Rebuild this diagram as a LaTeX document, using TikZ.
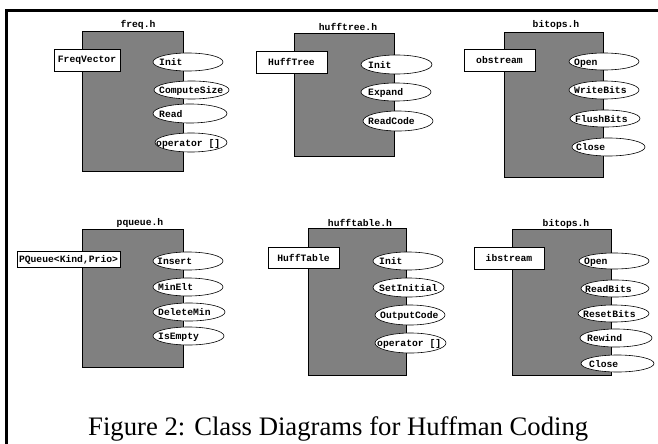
\documentclass[tikz,border=0pt]{standalone}
\usepackage{fontspec}
\setmainfont{Liberation Serif}
\newfontfamily\codefont{Liberation Mono}
\usetikzlibrary{shapes.geometric}
\definecolor{clsgray}{HTML}{808080}
\newcommand\mth[7]{%
  \node[meth, minimum width=#4pt, minimum height=#5pt] (#1) at (#2,#3) {};
  \node[mtext] (#1t) at (#6,#3) {#7};}
\begin{document}
\begin{tikzpicture}[x=1pt,y=-1pt,
  cls/.style={draw=black, fill=clsgray, line width=0.7pt, inner sep=0pt},
  cbox/.style={draw=black, fill=white, line width=0.7pt, inner sep=0pt,
    font=\codefont\bfseries\fontsize{9.7}{11}\selectfont},
  meth/.style={ellipse, draw=black, fill=white, line width=0.6pt, inner sep=0pt},
  mtext/.style={inner sep=0pt, anchor=west, text height=7pt, text depth=0pt,
    font=\codefont\bfseries\fontsize{9.7}{11}\selectfont},
  hdr/.style={inner sep=0pt, font=\codefont\bfseries\fontsize{9.7}{11}\selectfont},
  frame/.style={line width=3pt, draw=black}]
\useasboundingbox (0,0) rectangle (658,444);
% frame
\coordinate (fa) at (658,10.5);
\coordinate (fb) at (6.3,10.5);
\coordinate (fc) at (6.3,444);
\draw[frame] (fa) -- (fb) -- (fc);

% ---- freq.h
\node[cls, minimum width=101pt, minimum height=140pt] (r1) at (132.5,101) {};
\node[hdr] (h1) at (138,24.5) {freq.h};
\node[cbox, minimum width=66pt, minimum height=22pt] (b1) at (87,60) {FreqVector};
\mth{a1}{188}{62}{70}{18}{159}{Init}
\mth{a2}{191.5}{90}{75}{18}{159}{ComputeSize}
\mth{a3}{190}{113.5}{74}{19}{159}{Read}
\mth{a4}{191}{142.5}{72}{19}{156}{operator []}

% ---- hufftree.h
\node[cls, minimum width=100pt, minimum height=123pt] (r2) at (344,94.5) {};
\node[hdr] (h2) at (348,27) {hufftree.h};
\node[cbox, minimum width=71pt, minimum height=22pt] (b2) at (291.5,62) {HuffTree};
\mth{c1}{396.5}{64.5}{71}{19}{368}{Init}
\mth{c2}{396}{92}{70}{18}{368}{Expand}
\mth{c3}{398}{121}{70}{20}{368}{ReadCode}

% ---- bitops.h (out)
\node[cls, minimum width=99pt, minimum height=145pt] (r3) at (553.5,104.5) {};
\node[hdr] (h3) at (556,25) {bitops.h};
\node[cbox, minimum width=71pt, minimum height=22pt] (b3) at (499.5,60) {obstream};
\mth{d1}{604}{61.5}{70}{17}{574}{Open}
\mth{d2}{604}{90}{70}{18}{574}{WriteBits}
\mth{d3}{605}{118.5}{70}{17}{575}{FlushBits}
\mth{d4}{608.5}{147}{73}{18}{576}{Close}

% ---- pqueue.h
\node[cls, minimum width=101pt, minimum height=138pt] (r4) at (132.5,298) {};
\node[hdr] (h4) at (140,223) {pqueue.h};
\node[cbox, minimum width=103pt, minimum height=16pt] (b4) at (68.5,259.5) {PQueue<Kind,Prio>};
\mth{e1}{188}{261}{70}{18}{157}{Insert}
\mth{e2}{188}{287}{70}{18}{158}{MinElt}
\mth{e3}{189}{312}{72}{18}{158}{DeleteMin}
\mth{e4}{188.5}{336}{71}{18}{158}{IsEmpty}

% ---- hufftable.h
\node[cls, minimum width=98pt, minimum height=147pt] (r5) at (357,301.5) {};
\node[hdr] (h5) at (360,223) {hufftable.h};
\node[cbox, minimum width=71pt, minimum height=21pt] (b5) at (303.5,257.5) {HuffTable};
\mth{g1}{408}{261}{70}{18}{379}{Init}
\mth{g2}{408.5}{287.5}{71}{19}{379}{SetInitial}
\mth{g3}{410}{315}{70}{20}{380}{OutputCode}
\mth{g4}{410.5}{343}{71}{20}{377}{operator []}

% ---- bitops.h (in)
\node[cls, minimum width=99pt, minimum height=146pt] (r6) at (561.5,302) {};
\node[hdr] (h6) at (566,224) {bitops.h};
\node[cbox, minimum width=70pt, minimum height=22pt] (b6) at (509,258) {ibstream};
\mth{k1}{614}{261}{70}{16}{584}{Open}
\mth{k2}{615}{288.5}{68}{17}{585}{ReadBits}
\mth{k3}{613.5}{313.5}{71}{17}{583}{ResetBits}
\mth{k4}{616}{338}{72}{18}{587}{Rewind}
\mth{k5}{617.5}{363.5}{73}{17}{589}{Close}

% caption
\node[anchor=base west, inner sep=0pt, font=\fontsize{26.7}{30}\selectfont] (cap) at (88,435) {Figure 2: Class Diagrams for Huffman Coding};
\end{tikzpicture}
\end{document}
